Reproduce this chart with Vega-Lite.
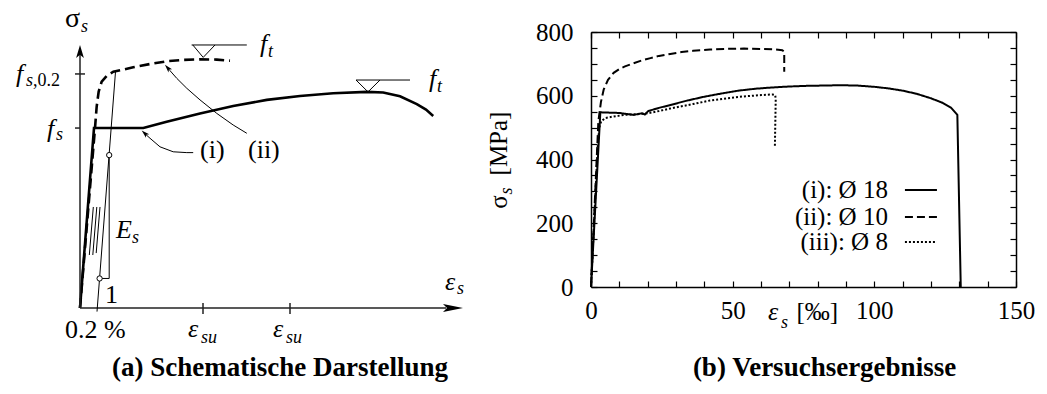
{
  "$schema": "https://vega.github.io/schema/vega-lite/v6.json",
  "padding": {"left": 16, "top": 5, "right": 5, "bottom": 5},
  "background": "white",
  "config": {
    "view": {"stroke": null},
    "font": "Liberation Serif, DejaVu Serif, serif",
    "axis": {"labelFont": "Liberation Serif, DejaVu Serif, serif", "labelColor": "black", "labelFontSize": 25, "domainColor": "black", "domainWidth": 1.5, "tickColor": "black", "tickWidth": 1.2, "grid": false}
  },
  "datasets": {
    "aLines": [
      {"g":"axis","id":"yax","o":0,"x":0,"y":0},{"g":"axis","id":"yax","o":1,"x":0,"y":92.0},
      {"g":"axis","id":"xax","o":0,"x":0,"y":0},{"g":"axis","id":"xax","o":1,"x":91.5,"y":0},
      {"g":"axis","id":"tk1","o":0,"x":-1.25,"y":84.8},{"g":"axis","id":"tk1","o":1,"x":1.25,"y":84.8},
      {"g":"axis","id":"tk2","o":0,"x":-1.25,"y":65.2},{"g":"axis","id":"tk2","o":1,"x":0,"y":65.2},
      {"g":"axis","id":"tk3","o":0,"x":30.75,"y":1.8},{"g":"axis","id":"tk3","o":1,"x":30.75,"y":-2.2},
      {"g":"axis","id":"tk4","o":0,"x":52.5,"y":1.8},{"g":"axis","id":"tk4","o":1,"x":52.5,"y":-2.2},
      {"g":"thin","id":"off","o":0,"x":4.25,"y":-1.3},{"g":"thin","id":"off","o":1,"x":8.875,"y":85.6},
      {"g":"thin","id":"tri","o":0,"x":4.9,"y":10.7},{"g":"thin","id":"tri","o":1,"x":7.3,"y":10.7},{"g":"thin","id":"tri","o":2,"x":7.3,"y":55.4},
      {"g":"thin","id":"h1","o":0,"x":2.33,"y":19.2},{"g":"thin","id":"h1","o":1,"x":3.33,"y":36.6},
      {"g":"thin","id":"h2","o":0,"x":3.2,"y":19.2},{"g":"thin","id":"h2","o":1,"x":4.2,"y":36.6},
      {"g":"thin","id":"h3","o":0,"x":4.05,"y":19.9},{"g":"thin","id":"h3","o":1,"x":5.0,"y":36.6},
      {"g":"thin","id":"ft1","o":0,"x":27.9,"y":95.3},{"g":"thin","id":"ft1","o":1,"x":41.7,"y":95.3},
      {"g":"thin","id":"ftt1","o":0,"x":28.2,"y":95.3},{"g":"thin","id":"ftt1","o":1,"x":30.8,"y":90.8},{"g":"thin","id":"ftt1","o":2,"x":33.75,"y":95.3},
      {"g":"thin","id":"ft2","o":0,"x":69,"y":82.6},{"g":"thin","id":"ft2","o":1,"x":82.5,"y":82.6},
      {"g":"thin","id":"ftt2","o":0,"x":69,"y":82.6},{"g":"thin","id":"ftt2","o":1,"x":72,"y":78.3},{"g":"thin","id":"ftt2","o":2,"x":75,"y":82.6},
      {"g":"thin","id":"ai","o":0,"x":28.3,"y":56.3},{"g":"thin","id":"ai","o":1,"x":26.7,"y":56.3},{"g":"thin","id":"ai","o":2,"x":23.3,"y":56.6},{"g":"thin","id":"ai","o":3,"x":20,"y":58.4},{"g":"thin","id":"ai","o":4,"x":17.5,"y":61.5},{"g":"thin","id":"ai","o":5,"x":16.2,"y":63.2},
      {"g":"thin","id":"aii","o":0,"x":41.7,"y":63.3},{"g":"thin","id":"aii","o":1,"x":38.3,"y":66.3},{"g":"thin","id":"aii","o":2,"x":34.2,"y":70.5},{"g":"thin","id":"aii","o":3,"x":30,"y":75.4},{"g":"thin","id":"aii","o":4,"x":26.7,"y":79.6},{"g":"thin","id":"aii","o":5,"x":24.2,"y":83.2},{"g":"thin","id":"aii","o":6,"x":22.5,"y":86.0},{"g":"thin","id":"aii","o":7,"x":22.0,"y":86.8},
      {"g":"solid","id":"ci","o":0,"x":0,"y":0},{"g":"solid","id":"ci","o":1,"x":3.5,"y":65.2},{"g":"solid","id":"ci","o":2,"x":15.83,"y":65.2},{"g":"solid","id":"ci","o":3,"x":21.67,"y":67.5},{"g":"solid","id":"ci","o":4,"x":30,"y":70.5},{"g":"solid","id":"ci","o":5,"x":38.3,"y":73.2},{"g":"solid","id":"ci","o":6,"x":46.7,"y":75.4},{"g":"solid","id":"ci","o":7,"x":55,"y":76.8},{"g":"solid","id":"ci","o":8,"x":63.3,"y":77.8},{"g":"solid","id":"ci","o":9,"x":71.7,"y":78.3},{"g":"solid","id":"ci","o":10,"x":75.8,"y":78.1},{"g":"solid","id":"ci","o":11,"x":80,"y":76.7},{"g":"solid","id":"ci","o":12,"x":84.2,"y":73.9},{"g":"solid","id":"ci","o":13,"x":86.5,"y":71.9},{"g":"solid","id":"ci","o":14,"x":88.3,"y":69.6},
      {"g":"dashed","id":"cii","o":0,"x":0,"y":0},{"g":"dashed","id":"cii","o":1,"x":3.75,"y":65.2},{"g":"dashed","id":"cii","o":2,"x":4.17,"y":73.0},{"g":"dashed","id":"cii","o":3,"x":4.67,"y":78.4},{"g":"dashed","id":"cii","o":4,"x":5.42,"y":82.0},{"g":"dashed","id":"cii","o":5,"x":6.67,"y":84.1},{"g":"dashed","id":"cii","o":6,"x":8.33,"y":85.6},{"g":"dashed","id":"cii","o":7,"x":13.3,"y":87.2},{"g":"dashed","id":"cii","o":8,"x":17.5,"y":88.4},{"g":"dashed","id":"cii","o":9,"x":21.67,"y":89.4},{"g":"dashed","id":"cii","o":10,"x":25.8,"y":89.9},{"g":"dashed","id":"cii","o":11,"x":30,"y":90.1},{"g":"dashed","id":"cii","o":12,"x":34.2,"y":90.0},{"g":"dashed","id":"cii","o":13,"x":37.5,"y":89.6}
    ],
    "aCircles": [{"x":4.9,"y":10.7},{"x":7.3,"y":55.4}],
    "aArrows": [{"n":"y","x":0,"y":92.9},{"n":"x","x":93.25,"y":0},{"n":"i","x":16.16,"y":63.3},{"n":"ii","x":21.9,"y":87.0}],
    "aText": [
      {"st":"it","t":"f","x":-16.0,"y":81.9},{"st":"it","t":"f","x":-8.25,"y":62.0},{"st":"it","t":"E","x":9.0,"y":25.4},
      {"st":"it","t":"ε","x":91.25,"y":6.5},{"st":"it","t":"ε","x":27.0,"y":-10.5},{"st":"it","t":"ε","x":48.25,"y":-10.5},
      {"st":"it","t":"f","x":45.0,"y":92.75},{"st":"it","t":"f","x":87.25,"y":80.1},
      {"st":"sub","t":"s","x":-13.5,"y":80.4},{"st":"sub","t":"s","x":-6.0,"y":60.9},{"st":"sub","t":"s","x":13.0,"y":23.6},
      {"st":"sub","t":"s","x":94.25,"y":5.1},{"st":"sub","t":"su","x":30.25,"y":-12.7},{"st":"sub","t":"su","x":51.5,"y":-12.7},
      {"st":"sub","t":"t","x":47.0,"y":90.9},{"st":"sub","t":"t","x":89.25,"y":78.3},{"st":"sub","t":"s","x":0.25,"y":100.0},
      {"st":"subr","t":",0.2","x":-11.75,"y":80.4},
      {"st":"rm","t":"0.2 %","x":-3.75,"y":-10.9},{"st":"rm","t":"1","x":6.25,"y":1.8},{"st":"rm","t":"(i)","x":30.0,"y":54.3},{"st":"rm","t":"(ii)","x":42.0,"y":54.3},
      {"st":"sig","t":"σ","x":-3.75,"y":101.8}
    ],
    "bSeries": [
      {"s":"(ii)","o":0,"x":0,"y":0},{"s":"(ii)","o":1,"x":2.6,"y":520},{"s":"(ii)","o":2,"x":3.5,"y":580},{"s":"(ii)","o":3,"x":4.5,"y":620},{"s":"(ii)","o":4,"x":6,"y":650},{"s":"(ii)","o":5,"x":8,"y":672},{"s":"(ii)","o":6,"x":10,"y":684},{"s":"(ii)","o":7,"x":12,"y":692},{"s":"(ii)","o":8,"x":15,"y":702},{"s":"(ii)","o":9,"x":18,"y":711},{"s":"(ii)","o":10,"x":21,"y":718},{"s":"(ii)","o":11,"x":24,"y":725},{"s":"(ii)","o":12,"x":28,"y":731},{"s":"(ii)","o":13,"x":32,"y":737},{"s":"(ii)","o":14,"x":36,"y":741},{"s":"(ii)","o":15,"x":42,"y":745},{"s":"(ii)","o":16,"x":48,"y":747},{"s":"(ii)","o":17,"x":54,"y":748},{"s":"(ii)","o":18,"x":60,"y":747},{"s":"(ii)","o":19,"x":64,"y":746},{"s":"(ii)","o":20,"x":67.5,"y":743},{"s":"(ii)","o":21,"x":68.2,"y":738},{"s":"(ii)","o":22,"x":68.2,"y":675},
      {"s":"(iii)","o":0,"x":0,"y":0},{"s":"(iii)","o":1,"x":2.3,"y":430},{"s":"(iii)","o":2,"x":2.9,"y":500},{"s":"(iii)","o":3,"x":3.6,"y":520},{"s":"(iii)","o":4,"x":5,"y":530},{"s":"(iii)","o":5,"x":8,"y":535},{"s":"(iii)","o":6,"x":12,"y":540},{"s":"(iii)","o":7,"x":16,"y":542},{"s":"(iii)","o":8,"x":20,"y":545},{"s":"(iii)","o":9,"x":24,"y":552},{"s":"(iii)","o":10,"x":28,"y":560},{"s":"(iii)","o":11,"x":32,"y":567},{"s":"(iii)","o":12,"x":36,"y":574},{"s":"(iii)","o":13,"x":42,"y":585},{"s":"(iii)","o":14,"x":48,"y":592},{"s":"(iii)","o":15,"x":54,"y":598},{"s":"(iii)","o":16,"x":60,"y":602},{"s":"(iii)","o":17,"x":64,"y":604},{"s":"(iii)","o":18,"x":65,"y":602},{"s":"(iii)","o":19,"x":65.2,"y":590},{"s":"(iii)","o":20,"x":64.9,"y":440},
      {"s":"(i)","o":0,"x":0,"y":0},{"s":"(i)","o":1,"x":3.3,"y":548},{"s":"(i)","o":2,"x":10,"y":546},{"s":"(i)","o":3,"x":15,"y":540},{"s":"(i)","o":4,"x":18,"y":545},{"s":"(i)","o":5,"x":19,"y":541},{"s":"(i)","o":6,"x":20.2,"y":552},{"s":"(i)","o":7,"x":24,"y":562},{"s":"(i)","o":8,"x":28,"y":571},{"s":"(i)","o":9,"x":34,"y":585},{"s":"(i)","o":10,"x":40,"y":597},{"s":"(i)","o":11,"x":46,"y":607},{"s":"(i)","o":12,"x":52,"y":616},{"s":"(i)","o":13,"x":58,"y":622},{"s":"(i)","o":14,"x":64,"y":626},{"s":"(i)","o":15,"x":70,"y":629},{"s":"(i)","o":16,"x":76,"y":631},{"s":"(i)","o":17,"x":82,"y":632},{"s":"(i)","o":18,"x":88,"y":633},{"s":"(i)","o":19,"x":94,"y":632},{"s":"(i)","o":20,"x":100,"y":628},{"s":"(i)","o":21,"x":105,"y":623},{"s":"(i)","o":22,"x":110,"y":616},{"s":"(i)","o":23,"x":115,"y":606},{"s":"(i)","o":24,"x":120,"y":592},{"s":"(i)","o":25,"x":124,"y":578},{"s":"(i)","o":26,"x":127,"y":563},{"s":"(i)","o":27,"x":129.3,"y":540},{"s":"(i)","o":28,"x":130.5,"y":0}
    ],
    "bLegend": [
      {"s":"(i)","label":"(i): Ø 18","tx":104.8,"x1":110.8,"x2":122.1,"y":304},
      {"s":"(ii)","label":"(ii): Ø 10","tx":104.8,"x1":110.8,"x2":122.1,"y":220},
      {"s":"(iii)","label":"(iii): Ø 8","tx":104.8,"x1":110.8,"x2":122.1,"y":141}
    ],
    "bText": [
      {"st":"it","t":"ε","x":62.5,"y":-103.5},
      {"st":"sub","t":"s","x":67.1,"y":-128.6},
      {"st":"rm","t":"[‰]","x":72.5,"y":-103.5},
      {"st":"rot","t":"σ","x":-32.5,"y":266.6},
      {"st":"rotsub","t":"s","x":-29.6,"y":301},
      {"st":"rot","t":"[MPa]","x":-32.5,"y":450.2}
    ]
  },
  "concat": [
    {
      "width": 400,
      "height": 276,
      "title": {"text": "(a) Schematische Darstellung", "orient": "bottom", "frame": "group", "anchor": "middle", "font": "Liberation Serif, DejaVu Serif, serif", "fontSize": 27, "fontWeight": "bold", "color": "black", "offset": 8, "dx": 0},
      "encoding": {
        "x": {"field": "x", "type": "quantitative", "scale": {"domain": [0, 100], "nice": false, "zero": false}, "axis": null},
        "y": {"field": "y", "type": "quantitative", "scale": {"domain": [0, 100], "nice": false, "zero": false}, "axis": null}
      },
      "layer": [
        {"data": {"name": "aLines"}, "transform": [{"filter": "datum.g === 'dashed'"}], "mark": {"type": "line", "color": "black", "strokeWidth": 2.6, "strokeDash": [10, 5]}, "encoding": {"detail": {"field": "id"}, "order": {"field": "o", "type": "quantitative"}}},
        {"data": {"name": "aLines"}, "transform": [{"filter": "datum.g === 'solid'"}], "mark": {"type": "line", "color": "black", "strokeWidth": 2.6}, "encoding": {"detail": {"field": "id"}, "order": {"field": "o", "type": "quantitative"}}},
        {"data": {"name": "aLines"}, "transform": [{"filter": "datum.g === 'axis'"}], "mark": {"type": "line", "color": "#222", "strokeWidth": 1.5}, "encoding": {"detail": {"field": "id"}, "order": {"field": "o", "type": "quantitative"}}},
        {"data": {"name": "aLines"}, "transform": [{"filter": "datum.g === 'thin'"}], "mark": {"type": "line", "color": "black", "strokeWidth": 1.0}, "encoding": {"detail": {"field": "id"}, "order": {"field": "o", "type": "quantitative"}}},
        {"data": {"name": "aCircles"}, "mark": {"type": "point", "shape": "circle", "size": 28, "filled": true, "fill": "white", "stroke": "black", "strokeWidth": 1, "opacity": 1}},
        {"data": {"name": "aArrows"}, "transform": [{"filter": "datum.n === 'y'"}], "mark": {"type": "point", "shape": "M0,-1L0.6,1L0,0.5L-0.6,1Z", "size": 169, "filled": true, "color": "black", "opacity": 1, "angle": 0}},
        {"data": {"name": "aArrows"}, "transform": [{"filter": "datum.n === 'x'"}], "mark": {"type": "point", "shape": "M0,-1L0.4,1L0,0.6L-0.4,1Z", "size": 400, "filled": true, "color": "black", "opacity": 1, "angle": 90}},
        {"data": {"name": "aArrows"}, "transform": [{"filter": "datum.n === 'i'"}], "mark": {"type": "point", "shape": "M0,-1L0.6,1L0,0.5L-0.6,1Z", "size": 64, "filled": true, "color": "black", "opacity": 1, "angle": 312.5}},
        {"data": {"name": "aArrows"}, "transform": [{"filter": "datum.n === 'ii'"}], "mark": {"type": "point", "shape": "M0,-1L0.6,1L0,0.5L-0.6,1Z", "size": 64, "filled": true, "color": "black", "opacity": 1, "angle": 318.7}},
        {"data": {"name": "aText"}, "transform": [{"filter": "datum.st === 'it'"}], "mark": {"type": "text", "align": "left", "baseline": "alphabetic", "font": "Liberation Serif, DejaVu Serif, serif", "fontStyle": "italic", "fontSize": 26, "color": "black"}, "encoding": {"text": {"field": "t"}}},
        {"data": {"name": "aText"}, "transform": [{"filter": "datum.st === 'sub'"}], "mark": {"type": "text", "align": "left", "baseline": "alphabetic", "font": "Liberation Serif, DejaVu Serif, serif", "fontStyle": "italic", "fontSize": 18, "color": "black"}, "encoding": {"text": {"field": "t"}}},
        {"data": {"name": "aText"}, "transform": [{"filter": "datum.st === 'subr'"}], "mark": {"type": "text", "align": "left", "baseline": "alphabetic", "font": "Liberation Serif, DejaVu Serif, serif", "fontSize": 18, "color": "black"}, "encoding": {"text": {"field": "t"}}},
        {"data": {"name": "aText"}, "transform": [{"filter": "datum.st === 'rm'"}], "mark": {"type": "text", "align": "left", "baseline": "alphabetic", "font": "Liberation Serif, DejaVu Serif, serif", "fontSize": 26, "color": "black"}, "encoding": {"text": {"field": "t"}}},
        {"data": {"name": "aText"}, "transform": [{"filter": "datum.st === 'sig'"}], "mark": {"type": "text", "align": "left", "baseline": "alphabetic", "font": "Liberation Serif, DejaVu Serif, serif", "fontSize": 28, "color": "black"}, "encoding": {"text": {"field": "t"}}}
      ]
    },
    {
      "width": 425,
      "height": 255,
      "title": {"text": "(b) Versuchsergebnisse", "orient": "bottom", "frame": "group", "anchor": "middle", "font": "Liberation Serif, DejaVu Serif, serif", "fontSize": 27, "fontWeight": "bold", "color": "black", "offset": 23, "dx": 21},
      "resolve": {"axis": {"x": "independent", "y": "independent"}},
      "layer": [
        {
          "data": {"name": "bSeries"},
          "mark": {"type": "line", "color": "black", "strokeWidth": 2},
          "encoding": {
            "x": {"field": "x", "type": "quantitative", "scale": {"domain": [0, 150], "nice": false, "zero": false}, "axis": {"orient": "bottom", "title": null, "values": [0,10,20,30,40,50,60,70,80,90,100,110,120,130,140,150], "labelExpr": "datum.value % 50 === 0 ? datum.label : ''", "tickSize": -6, "labelPadding": 17, "labelFlush": false, "labelOverlap": false}},
            "y": {"field": "y", "type": "quantitative", "scale": {"domain": [0, 800], "nice": false, "zero": false}, "axis": {"orient": "left", "title": null, "values": [0,50,100,150,200,250,300,350,400,450,500,550,600,650,700,750,800], "labelExpr": "datum.value % 200 === 0 ? datum.label : ''", "tickSize": -6, "labelPadding": 24, "labelFlush": false, "labelOverlap": false}},
            "strokeDash": {"field": "s", "type": "nominal", "scale": {"domain": ["(i)", "(ii)", "(iii)"], "range": [[1, 0], [8, 4], [2, 2]]}, "legend": null},
            "order": {"field": "o", "type": "quantitative"}
          }
        },
        {
          "data": {"name": "bLegend"},
          "mark": {"type": "rule", "color": "black", "strokeWidth": 2},
          "encoding": {
            "x": {"field": "x1", "type": "quantitative", "scale": {"domain": [0, 150], "nice": false, "zero": false}, "axis": {"orient": "top", "title": null, "values": [0,10,20,30,40,50,60,70,80,90,100,110,120,130,140,150], "labels": false, "tickSize": -6}},
            "x2": {"field": "x2"},
            "y": {"field": "y", "type": "quantitative", "scale": {"domain": [0, 800], "nice": false, "zero": false}, "axis": {"orient": "right", "title": null, "values": [0,50,100,150,200,250,300,350,400,450,500,550,600,650,700,750,800], "labels": false, "tickSize": -6}},
            "strokeDash": {"field": "s", "type": "nominal", "scale": {"domain": ["(i)", "(ii)", "(iii)"], "range": [[1, 0], [8, 4], [2, 2]]}, "legend": null}
          }
        },
        {
          "data": {"name": "bLegend"},
          "mark": {"type": "text", "align": "right", "baseline": "middle", "font": "Liberation Serif, DejaVu Serif, serif", "fontSize": 25, "color": "black"},
          "encoding": {
            "x": {"field": "tx", "type": "quantitative", "axis": null},
            "y": {"field": "y", "type": "quantitative", "axis": null},
            "text": {"field": "label"}
          }
        },
        {
          "data": {"name": "bText"},
          "transform": [{"filter": "datum.st === 'it'"}],
          "mark": {"type": "text", "align": "left", "baseline": "alphabetic", "font": "Liberation Serif, DejaVu Serif, serif", "fontStyle": "italic", "fontSize": 26, "color": "black"},
          "encoding": {"x": {"field": "x", "type": "quantitative", "axis": null}, "y": {"field": "y", "type": "quantitative", "axis": null}, "text": {"field": "t"}}
        },
        {
          "data": {"name": "bText"},
          "transform": [{"filter": "datum.st === 'sub'"}],
          "mark": {"type": "text", "align": "left", "baseline": "alphabetic", "font": "Liberation Serif, DejaVu Serif, serif", "fontStyle": "italic", "fontSize": 18, "color": "black"},
          "encoding": {"x": {"field": "x", "type": "quantitative", "axis": null}, "y": {"field": "y", "type": "quantitative", "axis": null}, "text": {"field": "t"}}
        },
        {
          "data": {"name": "bText"},
          "transform": [{"filter": "datum.st === 'rm'"}],
          "mark": {"type": "text", "align": "left", "baseline": "alphabetic", "font": "Liberation Serif, DejaVu Serif, serif", "fontSize": 25, "color": "black"},
          "encoding": {"x": {"field": "x", "type": "quantitative", "axis": null}, "y": {"field": "y", "type": "quantitative", "axis": null}, "text": {"field": "t"}}
        },
        {
          "data": {"name": "bText"},
          "transform": [{"filter": "datum.st === 'rot'"}],
          "mark": {"type": "text", "align": "center", "baseline": "middle", "angle": 270, "font": "Liberation Serif, DejaVu Serif, serif", "fontSize": 25, "color": "black"},
          "encoding": {"x": {"field": "x", "type": "quantitative", "axis": null}, "y": {"field": "y", "type": "quantitative", "axis": null}, "text": {"field": "t"}}
        },
        {
          "data": {"name": "bText"},
          "transform": [{"filter": "datum.st === 'rotsub'"}],
          "mark": {"type": "text", "align": "center", "baseline": "middle", "angle": 270, "font": "Liberation Serif, DejaVu Serif, serif", "fontStyle": "italic", "fontSize": 18, "color": "black"},
          "encoding": {"x": {"field": "x", "type": "quantitative", "axis": null}, "y": {"field": "y", "type": "quantitative", "axis": null}, "text": {"field": "t"}}
        }
      ]
    }
  ],
  "columns": 2,
  "align": "each",
  "bounds": "flush",
  "spacing": 111
}
